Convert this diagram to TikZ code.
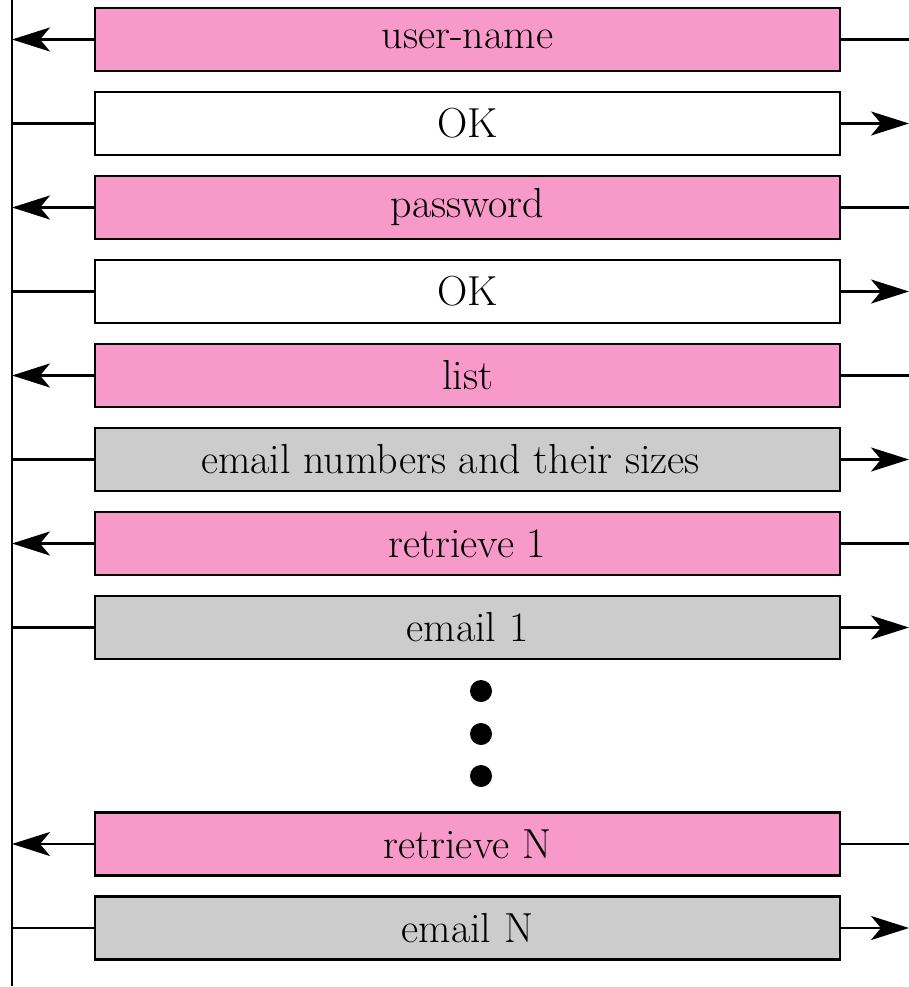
\documentclass[tikz,border=0pt]{standalone}
\usetikzlibrary{arrows.meta}
\definecolor{pinkbox}{RGB}{247,153,201}
\definecolor{graybox}{RGB}{204,204,204}
\tikzset{
  msg/.style={draw=black, line width=2.7pt, minimum width=745pt, minimum height=63pt, inner sep=0pt, font=\fontsize{42}{46}\selectfont},
  cli/.style={msg, fill=pinkbox},
  srvw/.style={msg, fill=white},
  srvg/.style={msg, fill=graybox},
  conn/.style={line width=2.8pt},
  arr/.style={conn, -{Stealth[length=38pt,width=24pt,inset=10pt]}},
  dotc/.style={circle, fill=black, inner sep=0pt, minimum size=22pt}
}
\begin{document}
\begin{tikzpicture}[x=1pt,y=-1pt]
\useasboundingbox (0,0) rectangle (909,987);
\draw[line width=2.2pt] (12,0) -- (12,986);
\foreach \n/\y in {a/39.5,c/207.5,e/375.5,g/543.5,k/844}{
  \coordinate (L\n) at (12,\y);
  \coordinate (R\n) at (909,\y);
}
\foreach \n/\y in {b/123.5,d/291.5,f/459.5,h/627.5,m/928}{
  \coordinate (L\n) at (12,\y);
  \coordinate (R\n) at (909,\y);
}
\node[cli]  (a) at (467.5,39.5) {user-name};
\node[srvw] (b) at (467.5,123.5) {OK};
\node[cli]  (c) at (467.5,207.5) {password};
\node[srvw] (d) at (467.5,291.5) {OK};
\node[cli]  (e) at (467.5,375.5) {list};
\node[srvg] (f) at (467.5,459.5) {\hspace*{-34pt}email numbers and their sizes};
\node[cli]  (g) at (467.5,543.5) {retrieve 1};
\node[srvg] (h) at (467.5,627.5) {email 1};
\node[cli]  (k) at (467.5,844) {retrieve N};
\node[srvg] (m) at (467.5,928) {email N};
\foreach \n in {a,c,e,g,k}{
  \draw[arr] (\n.west) -- (L\n);
  \draw[conn] (\n.east) -- (R\n);
}
\foreach \n in {b,d,f,h,m}{
  \draw[conn] (\n.west) -- (L\n);
  \draw[arr] (\n.east) -- (R\n);
}
\node[dotc] (d1) at (481,691) {};
\node[dotc] (d2) at (481,734) {};
\node[dotc] (d3) at (481,776) {};
\end{tikzpicture}
\end{document}
